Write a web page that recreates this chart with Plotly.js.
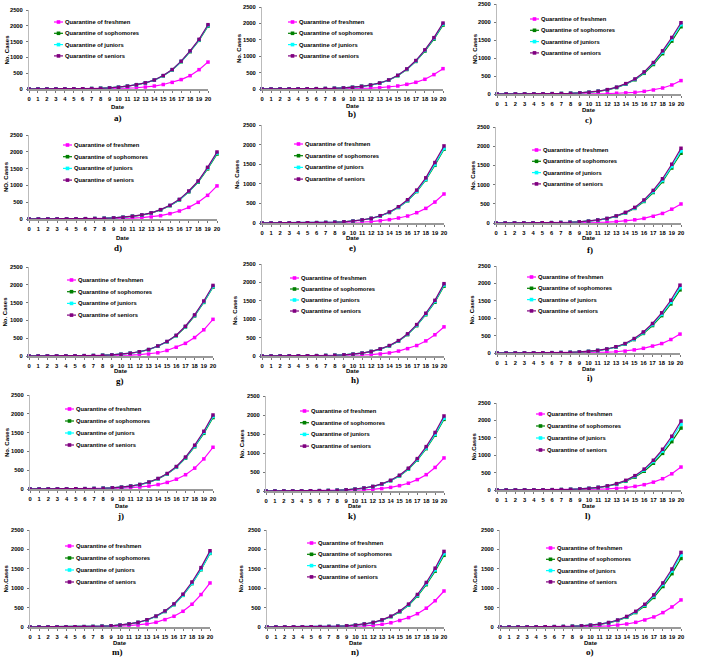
<!DOCTYPE html>
<html><head><meta charset="utf-8">
<script src="https://cdn.plot.ly/plotly-3.0.1.min.js"></script>
<style>html,body{margin:0;padding:0;background:#fff}#chart{width:707px;height:661px}</style>
</head><body><div id="chart"></div>
<script>
const days=[0,1,2,3,4,5,6,7,8,9,10,11,12,13,14,15,16,17,18,19,20];
const seriesNames=['Quarantine of freshmen','Quarantine of sophomores','Quarantine of juniors','Quarantine of seniors'];
const panelLabels=['a)','b)','c)','d)','e)','f)','g)','h)','i)','j)','k)','l)','m)','n)','o)'];
const yTitles=['No. Cases','No. Cases','NO. Cases','NO. Cases','No. Cases','No. Cases','No. Cases','No. Cases','No. Cases','No. Cases','No. Cases','No.Cases','No.Cases','No.Cases','No.Cases'];
const xTitle='Date';
const yTicks=[0,500,1000,1500,2000,2500];

const freshmen=[
[0,1,1,2,3,4,5,7,10,14,19,27,40,62,94,142,210,298,422,612,852],
[0,1,1,1,2,3,4,5,7,10,14,20,28,41,61,92,143,204,296,439,620],
[0,0,1,1,1,2,2,3,4,5,7,10,14,21,31,46,74,112,167,251,372],
[0,1,1,2,3,4,5,7,10,14,19,27,40,62,99,159,238,347,496,704,985],
[0,1,1,2,2,3,4,6,8,12,17,25,37,56,85,127,178,263,373,534,740],
[0,1,1,1,2,2,3,4,6,8,11,16,24,37,56,83,120,175,249,360,495],
[0,1,1,2,3,4,5,7,10,13,18,26,37,55,91,155,245,355,518,736,1030],
[0,1,1,2,2,3,4,6,9,13,19,27,38,55,84,134,200,284,410,577,792],
[0,1,1,1,2,2,3,4,6,8,11,16,24,36,54,90,135,199,271,388,543],
[0,1,1,2,3,4,6,8,12,17,24,35,52,78,118,175,260,380,555,800,1110],
[0,1,1,2,3,4,5,7,10,14,20,29,42,63,95,140,205,300,430,620,870],
[0,1,1,2,2,3,4,6,8,11,16,23,33,48,71,105,153,225,325,465,660],
[0,1,1,2,3,4,5,7,11,16,23,34,50,78,121,190,276,405,586,836,1135],
[0,1,1,2,2,3,5,7,10,15,21,31,46,70,109,167,242,343,485,677,928],
[0,1,1,1,2,3,4,5,7,10,14,20,30,50,78,121,181,259,371,517,698]
];
const sophomores=[
[1,1,2,3,4,6,9,14,22,34,54,88,134,191,279,416,603,862,1181,1541,1990],
[1,1,2,3,4,6,9,14,21,32,50,80,118,178,268,405,594,841,1158,1518,1950],
[1,1,2,3,4,6,9,13,20,30,47,75,115,179,270,395,575,820,1120,1470,1868],
[1,1,2,3,4,6,9,14,21,32,50,81,118,177,270,395,567,808,1097,1492,1934],
[1,1,2,3,4,6,9,13,19,30,47,76,115,178,267,396,566,801,1100,1472,1881],
[1,1,2,3,4,6,9,13,19,29,46,74,112,173,259,380,561,794,1078,1432,1817],
[1,1,2,3,4,6,9,13,20,30,48,77,117,177,275,399,567,815,1126,1506,1935],
[1,1,2,3,4,6,9,14,21,31,48,77,120,185,274,403,581,823,1121,1460,1898],
[1,1,2,3,4,6,9,13,19,28,44,71,108,167,252,386,563,789,1074,1410,1814],
[1,1,2,3,4,6,9,13,20,30,47,75,116,178,270,398,577,820,1124,1481,1900],
[1,1,2,3,4,6,9,13,20,30,47,75,115,177,269,396,573,813,1115,1470,1885],
[1,1,2,3,4,6,9,13,19,28,44,70,107,165,250,371,540,770,1053,1390,1781],
[1,1,2,3,4,6,9,13,20,30,47,76,117,179,272,399,575,816,1119,1476,1897],
[1,1,2,3,4,6,9,13,19,29,46,74,113,175,265,390,561,796,1091,1440,1848],
[1,1,2,3,4,6,9,12,18,28,43,70,107,166,250,372,538,762,1044,1375,1767]
];
const juniors=[
[1,1,2,3,4,6,9,14,22,35,55,89,136,193,282,421,609,871,1193,1556,2010],
[1,1,2,3,4,6,9,14,21,33,51,81,120,181,272,412,603,854,1176,1541,1980],
[1,1,2,3,4,6,9,13,20,31,48,77,118,184,279,406,595,848,1162,1520,1924],
[1,1,2,3,4,6,9,14,21,33,51,82,120,179,274,401,576,820,1114,1515,1962],
[1,1,2,3,4,6,9,13,20,30,48,77,116,180,271,401,573,811,1113,1490,1900],
[1,1,2,3,4,6,9,13,20,30,48,76,115,178,266,390,576,815,1107,1470,1873],
[1,1,2,3,4,6,9,13,20,31,48,78,118,179,278,403,573,823,1138,1522,1952],
[1,1,2,3,4,6,9,14,21,32,49,79,122,188,278,410,590,836,1139,1483,1928],
[1,1,2,3,4,6,9,13,19,29,46,73,111,173,260,398,581,814,1109,1455,1875],
[1,1,2,3,4,6,9,13,20,31,48,77,118,181,274,404,586,833,1142,1504,1930],
[1,1,2,3,4,6,9,13,20,30,48,77,117,180,274,403,582,826,1133,1494,1915],
[1,1,2,3,4,6,9,13,20,30,46,75,114,175,265,393,573,817,1117,1475,1890],
[1,1,2,3,4,6,9,13,20,30,48,77,117,180,274,402,578,821,1125,1484,1905],
[1,1,2,3,4,6,9,13,20,30,47,76,115,178,271,398,572,813,1114,1470,1890],
[1,1,2,3,4,6,9,13,19,29,45,73,112,174,262,390,565,799,1095,1443,1853]
];
const seniors=[
[1,1,2,3,4,6,9,14,22,35,55,90,137,195,285,425,615,880,1205,1572,2035],
[1,1,2,3,4,6,9,14,21,33,51,82,122,184,276,418,612,867,1194,1565,2010],
[1,1,2,3,4,6,9,13,20,31,49,79,121,190,288,418,613,874,1199,1570,1980],
[1,1,2,3,4,6,9,14,21,33,52,83,122,182,278,407,585,833,1131,1538,1994],
[1,1,2,3,4,6,9,13,20,31,49,79,120,186,280,415,593,839,1152,1542,1966],
[1,1,2,3,4,6,9,13,20,31,49,79,120,185,277,406,600,849,1153,1531,1946],
[1,1,2,3,4,6,9,13,20,31,49,79,120,182,282,409,582,836,1155,1545,1982],
[1,1,2,3,4,6,9,14,21,32,50,80,124,192,284,418,602,853,1162,1513,1965],
[1,1,2,3,4,6,9,13,19,30,47,76,116,180,271,415,605,848,1155,1516,1949],
[1,1,2,3,4,6,9,13,20,31,49,78,120,185,280,412,598,850,1165,1535,1968],
[1,1,2,3,4,6,9,13,20,31,49,79,121,186,282,415,600,852,1168,1540,1974],
[1,1,2,3,4,6,9,13,20,31,48,78,119,183,278,412,600,855,1170,1545,1980],
[1,1,2,3,4,6,9,13,20,31,49,79,121,186,282,414,596,846,1160,1530,1965],
[1,1,2,3,4,6,9,13,20,31,48,78,119,184,279,410,590,838,1148,1515,1948],
[1,1,2,3,4,6,9,13,19,30,47,76,116,180,272,404,585,828,1135,1495,1922]
];

// layout geometry per panel (pixels): x0, x20, yTop, y0, dateY, labelY, labelX, yTitleX, legendTextX, legendRow0, legendGap
const geom=[
[29,208,10,89,107,118,118,7,64,22,11.3],
[262,443,7,89,106,114,352,239,298,22,11.3],
[497,681,4,94,110,120,588,475,540,19,11.3],
[29,217,135,219,238,248,118,6,73,145,11.7],
[262,444,125,223,238,248,352,237,304,144,11.7],
[496,681,127,223,238,250,590,473,542,150,11.3],
[29,213,267,356,371,381,120,5,77,280,11.7],
[262,444,264,356,371,380,355,235,300,278,11],
[497,680,266,353,369,378,590,471,537,277,11.3],
[30,213,395,489,506,516,120,7,75,409,12],
[266,444,396,491,506,516,352,241,310,411,11.7],
[497,681,403,490,506,516,588,473,546,414,12],
[30,210,530,627,643,652,118,5,75,546,12],
[267,444,530,627,643,652,355,240,317,543,11.3],
[500,681,530,627,643,652,590,474,556,548,11.3]
];
const colors=['#FF00FF','#008000','#00FFFF','#800080'];
const W=707,H=661;
const px=x=>x/W, py=y=>1-y/H;
const sansFont='Liberation Sans, Arial, sans-serif';
const allSeries=[freshmen,sophomores,juniors,seniors];

const traces=[],shapes=[],annotations=[];
const layout={width:W,height:H,autosize:false,margin:{l:0,r:0,t:0,b:0},paper_bgcolor:'#fff',plot_bgcolor:'rgba(0,0,0,0)',showlegend:false};

geom.forEach((g,i)=>{
  const [x0,x20,yTop,y0,dateY,labY,labX,ytX,legX,legY,legGap]=g;
  const n=i+1, s=(n===1?'':String(n));
  layout['xaxis'+s]={domain:[px(x0),px(x20)],range:[0,20],anchor:'y'+s,tickmode:'array',tickvals:days,ticktext:days.map(String),
    ticks:'outside',ticklen:2,tickwidth:1,tickcolor:'#777',showline:true,linecolor:'#999',linewidth:1.5,showgrid:false,zeroline:false,
    tickangle:0,tickfont:{size:5.8,family:sansFont,color:'#000',weight:'bold'},ticklabelstandoff:2,fixedrange:true};
  layout['yaxis'+s]={domain:[py(y0),py(yTop)],range:[0,2500],anchor:'x'+s,tickmode:'array',tickvals:yTicks,
    ticks:'outside',ticklen:2,tickwidth:1,tickcolor:'#777',showline:true,linecolor:'#bbb',linewidth:1,showgrid:false,zeroline:false,
    tickangle:0,tickfont:{size:5.8,family:sansFont,color:'#000',weight:'bold'},ticklabelstandoff:2,fixedrange:true};
  allSeries.forEach((ser,k)=>{
    traces.push({type:'scatter',mode:'lines+markers',x:days,y:ser[i],xaxis:'x'+s,yaxis:'y'+s,name:seriesNames[k],
      line:{color:colors[k],width:1.2},marker:{symbol:'square',size:3.5,color:colors[k]},cliponaxis:false,showlegend:false,hoverinfo:'skip'});
    const ry=legY+k*legGap;
    shapes.push({type:'line',xref:'paper',yref:'paper',x0:px(legX-10),x1:px(legX-1),y0:py(ry),y1:py(ry),line:{color:colors[k],width:1.2}});
    shapes.push({type:'rect',xref:'paper',yref:'paper',x0:px(legX-7.3),x1:px(legX-3.7),y0:py(ry-1.8),y1:py(ry+1.8),line:{width:0},fillcolor:colors[k]});
    annotations.push({xref:'paper',yref:'paper',x:px(legX),y:py(ry),xanchor:'left',yanchor:'middle',showarrow:false,text:seriesNames[k],
      font:{size:5.8,family:sansFont,color:'#000',weight:'bold'},borderpad:0});
  });
  annotations.push({xref:'paper',yref:'paper',x:px((x0+x20)/2),y:py(dateY),xanchor:'center',yanchor:'middle',showarrow:false,text:xTitle,
    font:{size:6,family:sansFont,color:'#000',weight:'bold'},borderpad:0});
  annotations.push({xref:'paper',yref:'paper',x:px(labX),y:py(labY),xanchor:'center',yanchor:'middle',showarrow:false,text:panelLabels[i],
    font:{size:9,family:'Liberation Serif, Times New Roman, serif',color:'#000',weight:'bold'},borderpad:0});
  annotations.push({xref:'paper',yref:'paper',x:px(ytX),y:py((yTop+y0)/2),xanchor:'center',yanchor:'middle',showarrow:false,text:yTitles[i],textangle:-90,
    font:{size:6,family:sansFont,color:'#000',weight:'bold'},borderpad:0});
});
layout.shapes=shapes;
layout.annotations=annotations;
Plotly.newPlot('chart',traces,layout,{staticPlot:true,displayModeBar:false});
</script>
</body></html>
